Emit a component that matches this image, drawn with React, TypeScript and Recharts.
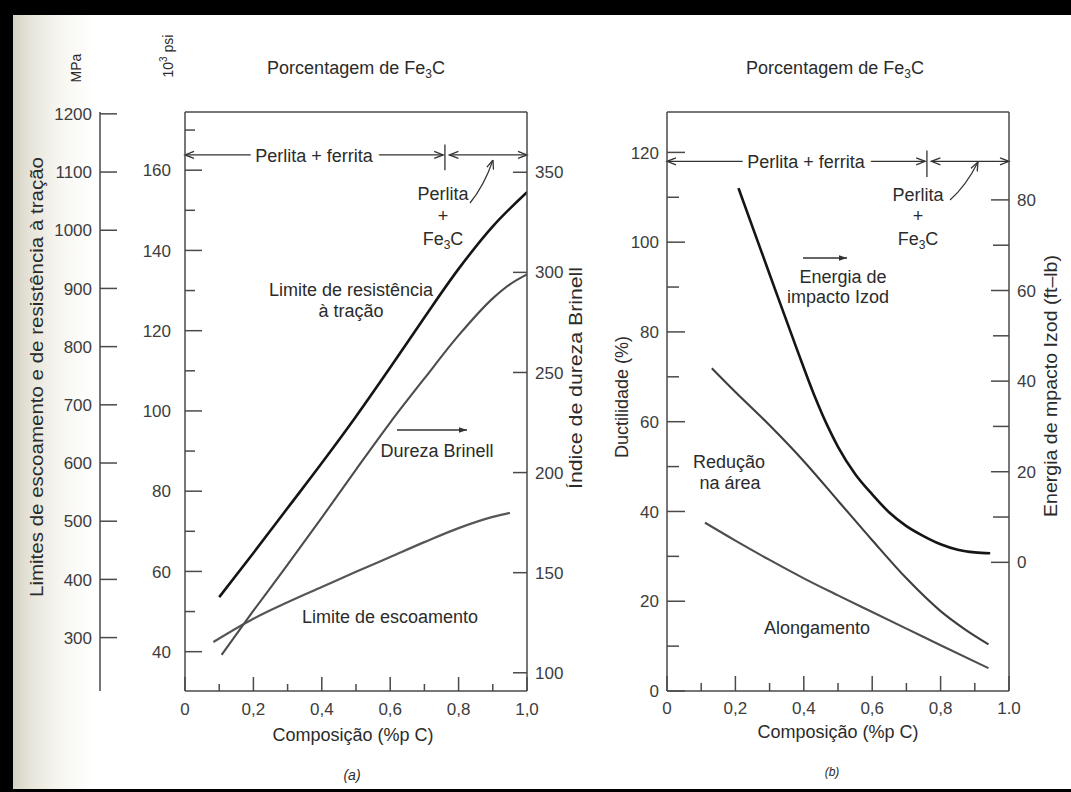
import { LineChart, Line, XAxis, YAxis, ReferenceLine } from 'recharts'

const FONT = '"Liberation Sans", Arial, Helvetica, sans-serif'
const AXIS = '#4a4a4a'
const INK = '#2b2b2b'
const TICK_INK = '#3d3d3d'

// composition axis (wt% C, bottom) and Fe3C axis (top)
const cTicks = [0, 0.1, 0.2, 0.3, 0.4, 0.5, 0.6, 0.7, 0.8, 0.9, 1.0]
const cMajor = [0, 0.2, 0.4, 0.6, 0.8, 1.0]
const cLabelsA = ['0', '0,2', '0,4', '0,6', '0,8', '1,0']
const cLabelsB = ['0', '0,2', '0,4', '0,6', '0,8', '1.0']
const fe3cTicks = [0, 3, 6, 9, 12, 15]

// (a) strength (10^3 psi / MPa) and Brinell hardness
const ksiTicks = [40, 50, 60, 70, 80, 90, 100, 110, 120, 130, 140, 150, 160, 170]
const ksiMajor = [40, 60, 80, 100, 120, 140, 160]
const mpaTicks = [300, 400, 500, 600, 700, 800, 900, 1000, 1100, 1200]
const hbTicks = [100, 150, 200, 250, 300, 350]
const ksiDomain = [30.2, 174.5]
const mpaDomain = [30.2 * 6.895, 174.5 * 6.895]
const hbDomain = [90.9, 380.1]

// (b) ductility (%) and Izod impact energy (ft-lb)
const ductTicks = [0, 10, 20, 30, 40, 50, 60, 70, 80, 90, 100, 110, 120]
const ductMajor = [0, 20, 40, 60, 80, 100, 120]
const izodTicks = [0, 10, 20, 30, 40, 50, 60, 70, 80]
const izodMajor = [0, 20, 40, 60, 80]
const ductDomain = [0, 129]
const izodDomain = [-28.4, 99.4]

// curves
const tensileC = [0.1, 0.2, 0.3, 0.4, 0.5, 0.6, 0.7, 0.8, 0.9, 1.0]
const tensileKsi = [53.6, 64.6, 75.8, 87.0, 98.6, 110.8, 123.3, 135.4, 146.0, 154.5]
const hardnessC = [0.107, 0.2, 0.3, 0.4, 0.5, 0.6, 0.7, 0.8, 0.9, 0.95, 1.0]
const hardnessHB = [109, 131, 154, 177.5, 201.5, 225, 247, 268.5, 287, 294, 299]
const yieldC = [0.083, 0.2, 0.3, 0.4, 0.5, 0.6, 0.7, 0.8, 0.9, 0.95]
const yieldKsi = [42.4, 48.2, 52.3, 56.1, 59.9, 63.6, 67.3, 70.8, 73.6, 74.6]

const izodC = [0.209, 0.3, 0.38, 0.43, 0.47, 0.5, 0.55, 0.6, 0.65, 0.7, 0.75, 0.8, 0.85, 0.9, 0.945]
const izodFtLb = [82.6, 63.6, 47, 37, 30, 25.5, 19.5, 15, 11, 8, 5.8, 4, 2.8, 2.2, 2.0]
const areaC = [0.131, 0.2, 0.3, 0.4, 0.5, 0.6, 0.7, 0.8, 0.87, 0.94]
const areaPct = [71.9, 66.6, 59.2, 51.2, 42.4, 33.6, 25.1, 17.8, 13.8, 10.4]
const elongC = [0.111, 0.2, 0.3, 0.4, 0.5, 0.6, 0.7, 0.8, 0.94]
const elongPct = [37.5, 33.5, 29.2, 25.1, 21.3, 17.6, 13.9, 10.2, 5.1]

// phase region markers
const eutectoid = 0.76
const phaseLevelA = 163.8
const phaseLevelB = 118

const pts = (xs: number[], ys: number[]) => xs.map((c, i) => ({ c, v: ys[i] }))

type Side = 'left' | 'right' | 'top' | 'bottom'

function axisTick(side: Side, majors: number[], labels: string[], long: number, short: number, gap: number) {
  return (p: any) => {
    const v = p.payload.value
    const i = majors.findIndex((m) => Math.abs(m - v) < 1e-6)
    const label = i >= 0 ? labels[i] : null
    const len = i >= 0 ? long : short
    const { x, y } = p
    const t = { fontFamily: FONT, fontSize: 17, fill: TICK_INK }
    if (side === 'left')
      return (
        <g>
          <line x1={x} x2={x + len} y1={y} y2={y} stroke={AXIS} strokeWidth={1.5} />
          {label !== null && <text x={x - gap} y={y} dy="0.36em" textAnchor="end" {...t}>{label}</text>}
        </g>
      )
    if (side === 'right')
      return (
        <g>
          <line x1={x - len} x2={x} y1={y} y2={y} stroke={AXIS} strokeWidth={1.5} />
          {label !== null && <text x={x + gap} y={y} dy="0.36em" textAnchor="start" {...t}>{label}</text>}
        </g>
      )
    if (side === 'top')
      return (
        <g>
          <line x1={x} x2={x} y1={y} y2={y + len} stroke={AXIS} strokeWidth={1.5} />
          {label !== null && <text x={x} y={y - gap} textAnchor="middle" {...t}>{label}</text>}
        </g>
      )
    return (
      <g>
        <line x1={x} x2={x} y1={y - len} y2={y} stroke={AXIS} strokeWidth={1.5} />
        {label !== null && <text x={x} y={y + gap} textAnchor="middle" {...t}>{label}</text>}
      </g>
    )
  }
}

function DoubleArrow(p: any) {
  const { x1, y1, x2, y2 } = p
  const h = 9
  const w = 3.5
  return (
    <g stroke="#333" strokeWidth={1.3} fill="none">
      <line x1={x1} y1={y1} x2={x2} y2={y2} />
      <path d={`M${x1 + h},${y1 - w} L${x1},${y1} L${x1 + h},${y1 + w}`} />
      <path d={`M${x2 - h},${y2 - w} L${x2},${y2} L${x2 - h},${y2 + w}`} />
    </g>
  )
}

function Fe3C() {
  return (
    <>
      Fe<tspan fontSize={12} dy={4}>3</tspan>
      <tspan dy={-4}>C</tspan>
    </>
  )
}

const axisCommon = { stroke: AXIS, strokeWidth: 1.5, tickSize: 0, tickMargin: 0, interval: 0 as const, allowDataOverflow: true }

function ChartA() {
  return (
    <LineChart width={600} height={792} margin={{ top: 0, right: 0, bottom: 0, left: 0 }}>
      <XAxis xAxisId="c" dataKey="c" type="number" orientation="bottom" height={101} domain={[0, 1]} ticks={cTicks}
        tick={axisTick('bottom', cMajor, cLabelsA, 14, 7, 24)} {...axisCommon} />
      <XAxis xAxisId="fe3c" type="number" orientation="top" height={112} domain={[0, 15]} ticks={fe3cTicks}
        tick={axisTick('top', fe3cTicks, fe3cTicks.map(String), 18, 18, 7)} {...axisCommon} />
      <YAxis yAxisId="ksi" type="number" orientation="left" width={85} domain={ksiDomain} ticks={ksiTicks}
        tick={axisTick('left', ksiMajor, ksiMajor.map(String), 17, 10, 14)} {...axisCommon} />
      <YAxis yAxisId="mpa" type="number" orientation="left" width={100} domain={mpaDomain} ticks={mpaTicks}
        tick={axisTick('left', mpaTicks, mpaTicks.map(String), 17, 17, 8)} {...axisCommon} />
      <YAxis yAxisId="hb" type="number" orientation="right" width={73} domain={hbDomain} ticks={hbTicks}
        tick={axisTick('right', hbTicks, hbTicks.map(String), 14, 14, 8)} {...axisCommon} />
      <ReferenceLine xAxisId="c" yAxisId="ksi" ifOverflow="visible" shape={DoubleArrow}
        segment={[{ x: 0, y: phaseLevelA }, { x: 0.755, y: phaseLevelA }]} />
      <ReferenceLine xAxisId="c" yAxisId="ksi" ifOverflow="visible" shape={DoubleArrow}
        segment={[{ x: 0.773, y: phaseLevelA }, { x: 1.0, y: phaseLevelA }]} />
      <ReferenceLine xAxisId="c" yAxisId="ksi" ifOverflow="visible" stroke="#333" strokeWidth={1.3}
        segment={[{ x: eutectoid, y: phaseLevelA + 2.6 }, { x: eutectoid, y: phaseLevelA - 3.8 }]} />
      <Line xAxisId="c" yAxisId="ksi" data={pts(yieldC, yieldKsi)} dataKey="v" type="monotone" dot={false}
        stroke="#565656" strokeWidth={2.2} isAnimationActive={false} />
      <Line xAxisId="c" yAxisId="hb" data={pts(hardnessC, hardnessHB)} dataKey="v" type="monotone" dot={false}
        stroke="#4c4c4c" strokeWidth={2.1} isAnimationActive={false} />
      <Line xAxisId="c" yAxisId="ksi" data={pts(tensileC, tensileKsi)} dataKey="v" type="monotone" dot={false}
        stroke="#151515" strokeWidth={2.6} isAnimationActive={false} />
    </LineChart>
  )
}

function ChartB() {
  return (
    <LineChart width={511} height={792} margin={{ top: 0, right: 0, bottom: 0, left: 0 }}>
      <XAxis xAxisId="c" dataKey="c" type="number" orientation="bottom" height={101} domain={[0, 1]} ticks={cTicks}
        tick={axisTick('bottom', cMajor, cLabelsB, 15, 8, 23)} {...axisCommon} />
      <XAxis xAxisId="fe3c" type="number" orientation="top" height={112} domain={[0, 15]} ticks={fe3cTicks}
        tick={axisTick('top', fe3cTicks, fe3cTicks.map(String), 18, 18, 7)} {...axisCommon} />
      <YAxis yAxisId="duct" type="number" orientation="left" width={107} domain={ductDomain} ticks={ductTicks}
        tick={axisTick('left', ductMajor, ductMajor.map(String), 18, 12, 8)} {...axisCommon} />
      <YAxis yAxisId="izod" type="number" orientation="right" width={62} domain={izodDomain} ticks={izodTicks}
        tick={axisTick('right', izodMajor, izodMajor.map(String), 18, 16, 8)} {...axisCommon} />
      <ReferenceLine xAxisId="c" yAxisId="duct" ifOverflow="visible" shape={DoubleArrow}
        segment={[{ x: 0, y: phaseLevelB }, { x: 0.755, y: phaseLevelB }]} />
      <ReferenceLine xAxisId="c" yAxisId="duct" ifOverflow="visible" shape={DoubleArrow}
        segment={[{ x: 0.773, y: phaseLevelB }, { x: 1.0, y: phaseLevelB }]} />
      <ReferenceLine xAxisId="c" yAxisId="duct" ifOverflow="visible" stroke="#333" strokeWidth={1.3}
        segment={[{ x: eutectoid, y: phaseLevelB + 2.4 }, { x: eutectoid, y: phaseLevelB - 3.5 }]} />
      <Line xAxisId="c" yAxisId="duct" data={pts(elongC, elongPct)} dataKey="v" type="monotone" dot={false}
        stroke="#4e4e4e" strokeWidth={2.1} isAnimationActive={false} />
      <Line xAxisId="c" yAxisId="duct" data={pts(areaC, areaPct)} dataKey="v" type="monotone" dot={false}
        stroke="#3e3e3e" strokeWidth={2.1} isAnimationActive={false} />
      <Line xAxisId="c" yAxisId="izod" data={pts(izodC, izodFtLb)} dataKey="v" type="monotone" dot={false}
        stroke="#151515" strokeWidth={2.6} isAnimationActive={false} />
    </LineChart>
  )
}

function Annotations() {
  const t = { fontFamily: FONT, fontSize: 18, fill: INK }
  const halo = { stroke: '#fff', strokeWidth: 12, paintOrder: 'stroke' as const }
  const rot = (x: number, y: number) => `rotate(-90 ${x} ${y})`
  const stretch = { lengthAdjust: 'spacingAndGlyphs' as const }
  return (
    <svg width={1071} height={792} style={{ position: 'absolute', left: 0, top: 0, pointerEvents: 'none' }}>
      <defs>
        <marker id="openHead" viewBox="0 0 10 10" refX="10" refY="5" markerWidth="9" markerHeight="9"
          markerUnits="userSpaceOnUse" orient="auto">
          <path d="M0,1 L10,5 L0,9" fill="none" stroke="#333" strokeWidth="1.4" />
        </marker>
        <marker id="solidHead" viewBox="0 0 10 10" refX="10" refY="5" markerWidth="9" markerHeight="8"
          markerUnits="userSpaceOnUse" orient="auto">
          <path d="M0,1.5 L10,5 L0,8.5 Z" fill="#333" />
        </marker>
      </defs>

      {/* (a) */}
      <text {...t} fontSize={14} x={76} y={68} transform={rot(76, 68)} textAnchor="middle" dominantBaseline="central">MPa</text>
      <text {...t} fontSize={14} x={168} y={56} transform={rot(168, 56)} textAnchor="middle" dominantBaseline="central">
        10<tspan fontSize={10} dy={-5}>3</tspan><tspan dy={5}> psi</tspan>
      </text>
      <text {...t} fontSize={19} x={36} y={377} transform={rot(36, 377)} textAnchor="middle" dominantBaseline="central"
        textLength={440} {...stretch}>
        Limites de escoamento e de resistência à tração
      </text>
      <text {...t} x={576} y={378} transform={rot(576, 378)} textAnchor="middle" dominantBaseline="central"
        textLength={222} {...stretch}>
        Índice de dureza Brinell
      </text>
      <text {...t} x={356} y={74} textAnchor="middle">Porcentagem de <Fe3C /></text>
      <text {...t} {...halo} x={314} y={161.5} textAnchor="middle">Perlita + ferrita</text>
      <text {...t} x={443} y={199.5} textAnchor="middle">Perlita</text>
      <text {...t} x={443} y={222} textAnchor="middle">+</text>
      <text {...t} x={443} y={244.5} textAnchor="middle"><Fe3C /></text>
      <path d="M470,203 Q484,186 493,160" fill="none" stroke="#333" strokeWidth={1.2} markerEnd="url(#openHead)" />
      <text {...t} x={351} y={296} textAnchor="middle">Limite de resistência</text>
      <text {...t} x={351} y={317} textAnchor="middle">à tração</text>
      <line x1={397} y1={430} x2={467} y2={430} stroke="#333" strokeWidth={1.5} markerEnd="url(#solidHead)" />
      <text {...t} x={437} y={456.5} textAnchor="middle">Dureza Brinell</text>
      <text {...t} x={390} y={623} textAnchor="middle">Limite de escoamento</text>
      <text {...t} x={353} y={741} textAnchor="middle">Composição (%p C)</text>
      <text {...t} fontSize={14} fontStyle="italic" x={352} y={780} textAnchor="middle">(a)</text>

      {/* (b) */}
      <text {...t} x={622} y={397} transform={rot(622, 397)} textAnchor="middle" dominantBaseline="central">
        Ductilidade (%)
      </text>
      <text {...t} x={1051} y={386} transform={rot(1051, 386)} textAnchor="middle" dominantBaseline="central"
        textLength={262} {...stretch}>
        Energia de mpacto Izod (ft–lb)
      </text>
      <text {...t} x={835} y={74} textAnchor="middle">Porcentagem de <Fe3C /></text>
      <text {...t} {...halo} x={806} y={167.5} textAnchor="middle">Perlita + ferrita</text>
      <text {...t} x={918} y={200.5} textAnchor="middle">Perlita</text>
      <text {...t} x={918} y={222} textAnchor="middle">+</text>
      <text {...t} x={918} y={244.5} textAnchor="middle"><Fe3C /></text>
      <path d="M950,200 Q966,186 978,162" fill="none" stroke="#333" strokeWidth={1.2} markerEnd="url(#openHead)" />
      <line x1={803} y1={258} x2={847} y2={258} stroke="#333" strokeWidth={1.5} markerEnd="url(#solidHead)" />
      <text {...t} x={843} y={283} textAnchor="middle">Energia de</text>
      <text {...t} x={838} y={303} textAnchor="middle">impacto Izod</text>
      <text {...t} x={729} y={468} textAnchor="middle">Redução</text>
      <text {...t} x={730} y={489} textAnchor="middle">na área</text>
      <text {...t} x={817} y={634} textAnchor="middle">Alongamento</text>
      <text {...t} x={838} y={738} textAnchor="middle">Composição (%p C)</text>
      <text {...t} fontSize={12} fontStyle="italic" x={832} y={776} textAnchor="middle">(b)</text>
    </svg>
  )
}

export default function App() {
  return (
    <div style={{ position: 'absolute', left: 0, top: 0, width: 1071, height: 792, background: '#000', overflow: 'hidden' }}>
      <div
        style={{
          position: 'absolute', left: 13, top: 15, width: 1058, height: 774,
          background: 'linear-gradient(90deg, #d6d3c4 0px, #e7e5da 18px, #f6f5f0 45px, #ffffff 80px)',
        }}
      />
      <div style={{ position: 'absolute', left: 0, top: 0 }}>
        <ChartA />
      </div>
      <div style={{ position: 'absolute', left: 560, top: 0 }}>
        <ChartB />
      </div>
      <Annotations />
    </div>
  )
}
